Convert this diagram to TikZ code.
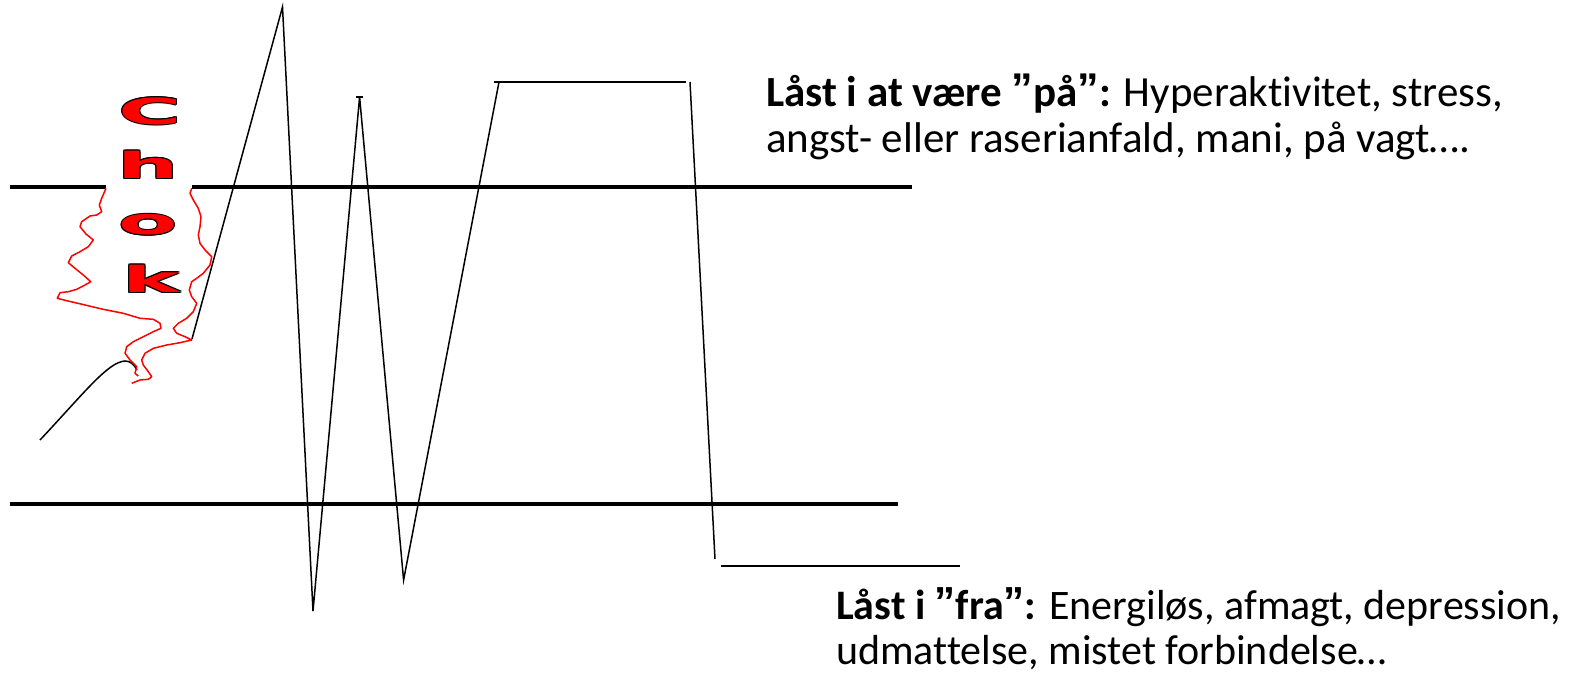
\documentclass[tikz,border=0pt]{standalone}
\usepackage{fontspec}
\setmainfont{Carlito}[Ligatures=NoCommon]
\newfontfamily\chokfont{DejaVu Sans}
\newfontfamily\qfont{Liberation Sans}
\newcommand\qq{{\qfont\bfseries\raisebox{0.05em}{”}}}
\newcommand\chkglyph[2]{\scalebox{2.4}[1]{\chokfont\bfseries\color{#1}#2}}
\newcommand\chkshift[3]{\rlap{\kern#1\raise#2\hbox{\chkglyph{black}{#3}}}}
\newcommand\chk[1]{\hbox{\chkshift{1.1pt}{0pt}{#1}\chkshift{-1.1pt}{0pt}{#1}\chkshift{0pt}{1.1pt}{#1}\chkshift{0pt}{-1.1pt}{#1}%
 \chkshift{0.8pt}{0.8pt}{#1}\chkshift{-0.8pt}{0.8pt}{#1}\chkshift{0.8pt}{-0.8pt}{#1}\chkshift{-0.8pt}{-0.8pt}{#1}%
 \chkglyph{red}{#1}}}
\tikzset{
  level/.style={line width=3.4pt,black},
  curve/.style={line width=1.5pt,black,line join=miter},
  shock/.style={line width=1.5pt,red,line join=round},
  labeltop/.style={font=\fontsize{43}{46}\selectfont,anchor=base west,inner sep=0pt},
  labelbot/.style={font=\fontsize{42}{46}\selectfont,anchor=base west,inner sep=0pt},
  chokl/.style={font=\fontsize{36}{36}\selectfont,inner sep=0pt}
}
\begin{document}
\begin{tikzpicture}[x=1pt,y=-1pt]
\useasboundingbox (0,0) rectangle (1587,672);
% level lines
\coordinate (u1) at (10,187); \coordinate (u2) at (106,187);
\coordinate (u3) at (192,187); \coordinate (u4) at (912,187);
\coordinate (l1) at (10,504); \coordinate (l2) at (898,504);
\draw[level] (u1) -- (u2);
\draw[level] (u3) -- (u4);
\draw[level] (l1) -- (l2);
% initial curve
\draw[curve] (40,440) .. controls (85,392) and (108,362) .. (125,361) .. controls (130,361) and (134,364) .. (137,370);
% zigzag
\draw[curve] (192,339) -- (282.5,7) -- (313,611) -- (359.6,97) -- (403.6,580) -- (499,82);
\draw[curve] (356,97) -- (363,97);
\draw[curve] (494,82) -- (686,82);
\draw[curve] (690,82) -- (715,559);
\draw[curve] (721,566) -- (960,566);
% shock outline
\draw[shock] (106,188.3) -- (101.7,198.3) -- (99.3,205) -- (101.7,211.7) -- (96.7,215) -- (90,216) -- (81.7,221.7) -- (80,226.7) -- (86,234) -- (93.3,240) -- (88.3,246.7) -- (80,251.7) -- (71.7,256) -- (68.3,262.7) -- (75,268.3) -- (83.3,275) -- (90.7,281.7) -- (85,285) -- (76.7,289.3) -- (68.3,291.7) -- (60,292.7) -- (57.3,298.3) -- (66.7,300.7) -- (85,305) -- (103.3,309.3) -- (123.3,313.3) -- (140,318.3) -- (153.3,319.3) -- (160,323.3) -- (161,328.3) -- (153.3,331.7) -- (143.3,336.7) -- (133.3,341.7) -- (126.7,346.7) -- (125,353.3) -- (130,360) -- (136.7,366.7) -- (135,373.3) -- (138.3,376);
\draw[shock] (191.7,188.3) -- (190,193.3) -- (193.3,200) -- (198.3,208.3) -- (201,216.7) -- (200,226.7) -- (198.3,235) -- (200,243.3) -- (205,250) -- (211.7,256.7) -- (210,265) -- (203.3,273.3) -- (196.7,278.3) -- (191.7,281.7) -- (189.3,290) -- (191.7,296.7) -- (196.7,303.3) -- (193.3,311.7) -- (186.7,318.3) -- (178.3,323.3) -- (173.3,328.3) -- (176.7,333.3) -- (185,336.7) -- (191.7,340) -- (180,342.7) -- (166.7,345) -- (153.3,348.3) -- (145,353.3) -- (141.7,360) -- (143.3,365) -- (148.3,371.7) -- (151.7,376.7) -- (148.3,379.3) -- (140,380) -- (131.7,383.3);
% Chok letters
\node[chokl] (chC) at (150,111) {\chk{C}};
\node[chokl] (chh) at (148,165) {\chk{h}};
\node[chokl] (cho) at (148,225) {\chk{o}};
\node[chokl] (chk) at (151,279) {\chk{k}};
% labels
\node[labeltop] (on1) at (766,106) {\textbf{Låst i at være \qq på\qq:} Hyperaktivitet, stress,};
\node[labeltop] (on2) at (766,152) {angst- eller raserianfald, mani, på vagt….};
\node[labelbot] (off1) at (836,619) {\textbf{Låst i \qq fra\qq:} Energiløs, afmagt, depression,};
\node[labelbot] (off2) at (836,664) {udmattelse, mistet forbindelse…};
\end{tikzpicture}
\end{document}
